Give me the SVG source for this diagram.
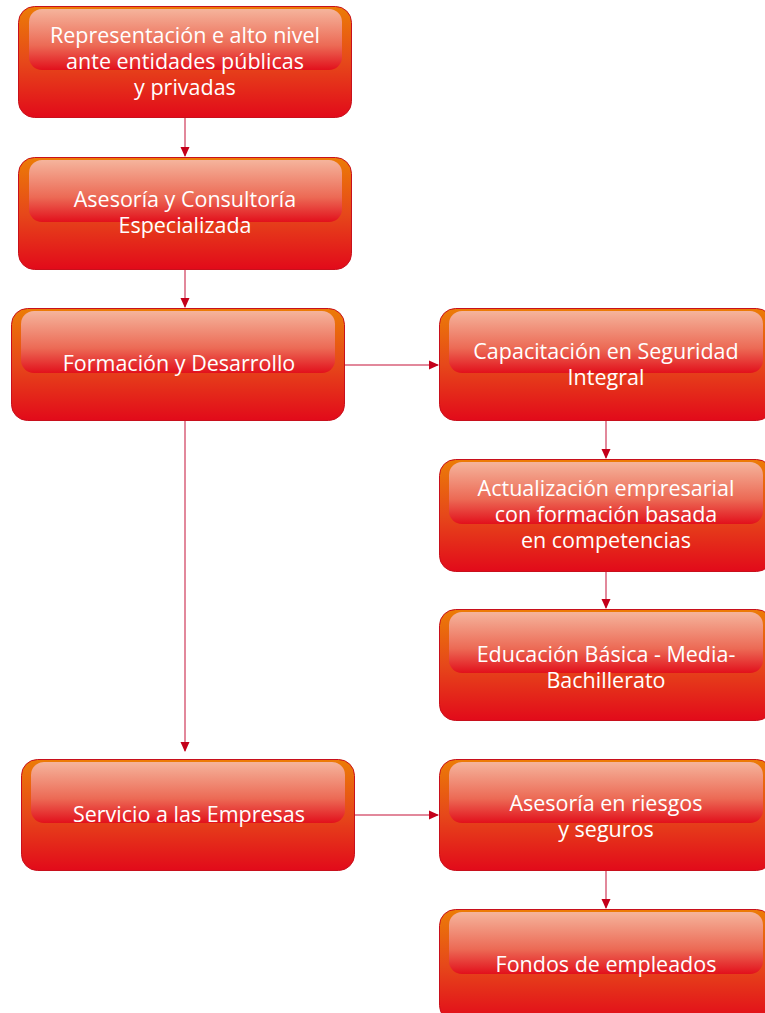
<svg xmlns="http://www.w3.org/2000/svg" width="765" height="1013" viewBox="0 0 765 1013">
<defs>
<linearGradient id="outer" x1="0" y1="0" x2="0" y2="1">
<stop offset="0" stop-color="#ec7c06"/>
<stop offset="0.5" stop-color="#e6481a"/>
<stop offset="1" stop-color="#e20a1a"/>
</linearGradient>
<linearGradient id="gloss" x1="0" y1="0" x2="0" y2="1">
<stop offset="0" stop-color="#f5b49c"/>
<stop offset="0.6" stop-color="#ec6a55"/>
<stop offset="1" stop-color="#e2101c"/>
</linearGradient>
<marker id="arr" markerWidth="10" markerHeight="10" refX="9" refY="5" orient="auto" markerUnits="userSpaceOnUse">
<path d="M0,0.5 L10,5 L0,9.5 Z" fill="#c4001a"/>
</marker>
</defs>
<style>
.box{fill:url(#outer);stroke:#c8101c;stroke-width:1}
.gl{fill:url(#gloss)}
.t{font-family:"Open Sans","Noto Sans",sans-serif;font-size:21.5px;fill:#ffffff;text-anchor:middle}
.c{stroke:#d9607a;stroke-width:1.5;fill:none;marker-end:url(#arr)}
</style>
<g id="connectors">
<line class="c" x1="185" y1="118" x2="185" y2="156"/>
<line class="c" x1="185" y1="270" x2="185" y2="307"/>
<line class="c" x1="345" y1="365" x2="438" y2="365"/>
<line class="c" x1="185" y1="421" x2="185" y2="751"/>
<line class="c" x1="606" y1="421" x2="606" y2="458"/>
<line class="c" x1="606" y1="572" x2="606" y2="608"/>
<line class="c" x1="355" y1="815" x2="438" y2="815"/>
<line class="c" x1="606" y1="871" x2="606" y2="908"/>
</g>
<g id="n1">
<rect class="box" x="18.5" y="6.5" width="333" height="111" rx="16"/>
<rect class="gl" x="29" y="9" width="313" height="61" rx="13"/>
<text class="t" x="185" y="43">Representación e alto nivel</text>
<text class="t" x="185" y="69">ante entidades públicas</text>
<text class="t" x="185" y="95">y privadas</text>
</g>
<g id="n2">
<rect class="box" x="18.5" y="157.5" width="333" height="112" rx="16"/>
<rect class="gl" x="29" y="160" width="313" height="62" rx="13"/>
<text class="t" x="185" y="207">Asesoría y Consultoría</text>
<text class="t" x="185" y="233">Especializada</text>
</g>
<g id="n3">
<rect class="box" x="11.5" y="308.5" width="333" height="112" rx="16"/>
<rect class="gl" x="21" y="311" width="314" height="62" rx="13"/>
<text class="t" x="179" y="371">Formación y Desarrollo</text>
</g>
<g id="n4">
<rect class="box" x="439.5" y="308.5" width="333" height="112" rx="16"/>
<rect class="gl" x="449" y="311" width="314" height="62" rx="13"/>
<text class="t" x="606" y="359">Capacitación en Seguridad</text>
<text class="t" x="606" y="385">Integral</text>
</g>
<g id="n5">
<rect class="box" x="439.5" y="459.5" width="333" height="112" rx="16"/>
<rect class="gl" x="449" y="462" width="314" height="62" rx="13"/>
<text class="t" x="606" y="496">Actualización empresarial</text>
<text class="t" x="606" y="522">con formación basada</text>
<text class="t" x="606" y="548">en competencias</text>
</g>
<g id="n6">
<rect class="box" x="439.5" y="609.5" width="333" height="111" rx="16"/>
<rect class="gl" x="449" y="612" width="314" height="61" rx="13"/>
<text class="t" x="606" y="662">Educación Básica - Media-</text>
<text class="t" x="606" y="688">Bachillerato</text>
</g>
<g id="n7">
<rect class="box" x="21.5" y="759.5" width="333" height="111" rx="16"/>
<rect class="gl" x="31" y="762" width="314" height="61" rx="13"/>
<text class="t" x="189" y="822">Servicio a las Empresas</text>
</g>
<g id="n8">
<rect class="box" x="439.5" y="759.5" width="333" height="111" rx="16"/>
<rect class="gl" x="449" y="762" width="314" height="61" rx="13"/>
<text class="t" x="606" y="811">Asesoría en riesgos</text>
<text class="t" x="606" y="837">y seguros</text>
</g>
<g id="n9">
<rect class="box" x="439.5" y="909.5" width="333" height="112" rx="16"/>
<rect class="gl" x="449" y="912" width="314" height="62" rx="13"/>
<text class="t" x="606" y="972">Fondos de empleados</text>
</g>
</svg>
